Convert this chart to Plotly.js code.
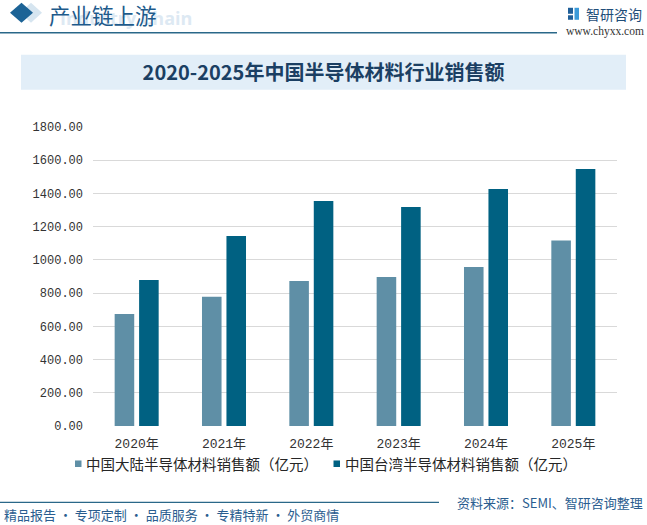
<!DOCTYPE html>
<html>
<head>
<meta charset="utf-8">
<script src="https://cdn.plot.ly/plotly-3.0.1.min.js"></script>
<style>
html,body{margin:0;padding:0;background:#fff;}
#chart{width:647px;height:525px;}
</style>
</head>
<body>
<div id="chart"></div>
<script>
// ---- data ----
var years = ["2020年", "2021年", "2022年", "2023年", "2024年", "2025年"];
var mainlandSales = [674, 778, 873, 897, 957, 1116];
var taiwanSales = [879, 1144, 1355, 1318, 1427, 1547];
var seriesNames = ["中国大陆半导体材料销售额（亿元）", "中国台湾半导体材料销售额（亿元）"];
var yTicks = [0, 200, 400, 600, 800, 1000, 1200, 1400, 1600, 1800];

// ---- layout geometry (pixels) ----
var W = 647, H = 525;
var PL = 93, PR = 617, PT = 127.3, PB = 426.5;
function px(x) { return (x - PL) / (PR - PL); }
function py(y) { return (PB - y) / (PB - PT); }

var colMain = "#5f8fa6";
var colTw = "#006182";
var cjk = "'Noto Sans CJK SC', 'Noto Sans', sans-serif";
var mono = "'Liberation Mono', 'Noto Sans CJK SC', monospace";

var traces = [
  {type: "bar", name: seriesNames[0], x: years, y: mainlandSales, marker: {color: colMain}, hoverinfo: "x+y"},
  {type: "bar", name: seriesNames[1], x: years, y: taiwanSales, marker: {color: colTw}, hoverinfo: "x+y"}
];

var shapes = [
  // title band
  {type: "rect", xref: "paper", yref: "paper", x0: px(21), x1: px(626), y0: py(90), y1: py(55),
   fillcolor: "#e2eef8", line: {width: 0}, layer: "below"},
  // header line
  {type: "line", xref: "paper", yref: "paper", x0: px(0), x1: px(557), y0: py(33), y1: py(33),
   line: {color: "#2a6889", width: 1.5}},
  // footer line
  {type: "line", xref: "paper", yref: "paper", x0: px(0), x1: px(439), y0: py(503), y1: py(503),
   line: {color: "#2a6889", width: 1.2}},
  // header light diamond
  {type: "path", xref: "paper", yref: "paper",
   path: "M " + px(20) + " " + py(13) + " L " + px(31) + " " + py(3) + " L " + px(42) + " " + py(13) + " L " + px(31) + " " + py(23) + " Z",
   fillcolor: "#d6e5f0", line: {width: 0}},
  // header dark diamond
  {type: "path", xref: "paper", yref: "paper",
   path: "M " + px(10) + " " + py(13) + " L " + px(21.5) + " " + py(3) + " L " + px(33) + " " + py(13) + " L " + px(21.5) + " " + py(23) + " Z",
   fillcolor: "#1c6396", line: {width: 0}},
  // logo icon pieces
  {type: "rect", xref: "paper", yref: "paper", x0: px(568), x1: px(573), y0: py(14), y1: py(8),
   fillcolor: "#1f5f99", line: {width: 0}},
  {type: "rect", xref: "paper", yref: "paper", x0: px(568), x1: px(573), y0: py(20), y1: py(15.5),
   fillcolor: "#1f5f99", line: {width: 0}},
  {type: "rect", xref: "paper", yref: "paper", x0: px(574.5), x1: px(579), y0: py(20), y1: py(8),
   fillcolor: "#3a9ad9", line: {width: 0}},
  // legend swatches
  {type: "rect", xref: "paper", yref: "paper", x0: px(75), x1: px(81.5), y0: py(467.5), y1: py(461),
   fillcolor: colMain, line: {width: 0}},
  {type: "rect", xref: "paper", yref: "paper", x0: px(333.5), x1: px(340), y0: py(467.5), y1: py(461),
   fillcolor: colTw, line: {width: 0}}
];

var annotations = [
  {text: "Industry Chain", xref: "paper", yref: "paper", x: px(58), y: py(18), xanchor: "left", yanchor: "middle",
   showarrow: false, font: {family: "'Open Sans', sans-serif", size: 18, color: "#dde9f3", weight: "bold"}},
  {text: "产业链上游", xref: "paper", yref: "paper", x: px(47), y: py(15), xanchor: "left", yanchor: "middle",
   showarrow: false, font: {family: cjk, size: 21.5, color: "#1d5a8b"}},
  {text: "智研咨询", xref: "paper", yref: "paper", x: px(584), y: py(14), xanchor: "left", yanchor: "middle",
   showarrow: false, font: {family: cjk, size: 14, color: "#1f4e79"}},
  {text: "www.chyxx.com", xref: "paper", yref: "paper", x: px(646), y: py(32), xanchor: "right", yanchor: "middle",
   showarrow: false, font: {family: "'Liberation Serif', serif", size: 11.5, color: "#333333"}},
  {text: seriesNames[0], xref: "paper", yref: "paper", x: px(84), y: py(464), xanchor: "left", yanchor: "middle",
   showarrow: false, font: {family: cjk, size: 14.5, color: "#262626"}},
  {text: seriesNames[1], xref: "paper", yref: "paper", x: px(343), y: py(464), xanchor: "left", yanchor: "middle",
   showarrow: false, font: {family: cjk, size: 14.5, color: "#262626"}},
  {text: "资料来源：SEMI、智研咨询整理", xref: "paper", yref: "paper", x: px(645), y: py(503), xanchor: "right", yanchor: "middle",
   showarrow: false, font: {family: cjk, size: 13, color: "#2a5d8f"}},
  {text: "精品报告 · 专项定制 · 品质服务 · 专精特新 · 外贸商情", xref: "paper", yref: "paper", x: px(2), y: py(515.5), xanchor: "left", yanchor: "middle",
   showarrow: false, font: {family: cjk, size: 13, color: "#2a5d8f"}}
];

var layout = {
  width: W, height: H,
  margin: {l: PL, r: W - PR, t: PT, b: H - PB, pad: 0},
  paper_bgcolor: "#ffffff",
  plot_bgcolor: "#ffffff",
  showlegend: false,
  barmode: "group",
  bargap: 0.44,
  bargroupgap: 0.2,
  title: {
    text: "2020-2025年中国半导体材料行业销售额",
    x: 0.5, xref: "container", xanchor: "center",
    y: 1 - 73 / H, yref: "container", yanchor: "middle",
    font: {family: cjk, size: 20, color: "#1b3f63", weight: "bold"}
  },
  xaxis: {
    type: "category",
    showgrid: false, zeroline: false, showline: false,
    ticks: "", ticklabelstandoff: 8,
    tickfont: {family: mono, size: 13, color: "#333333"},
    fixedrange: true
  },
  yaxis: {
    range: [0, 1800],
    tickvals: yTicks,
    tickformat: ".2f",
    showgrid: true, gridcolor: "#d9d9d9", gridwidth: 1,
    zeroline: false, showline: false,
    ticks: "", ticklabelstandoff: 9,
    tickfont: {family: mono, size: 12, color: "#333333"},
    fixedrange: true
  },
  shapes: shapes,
  annotations: annotations
};

Plotly.newPlot("chart", traces, layout, {displayModeBar: false, staticPlot: true});
</script>
</body>
</html>
